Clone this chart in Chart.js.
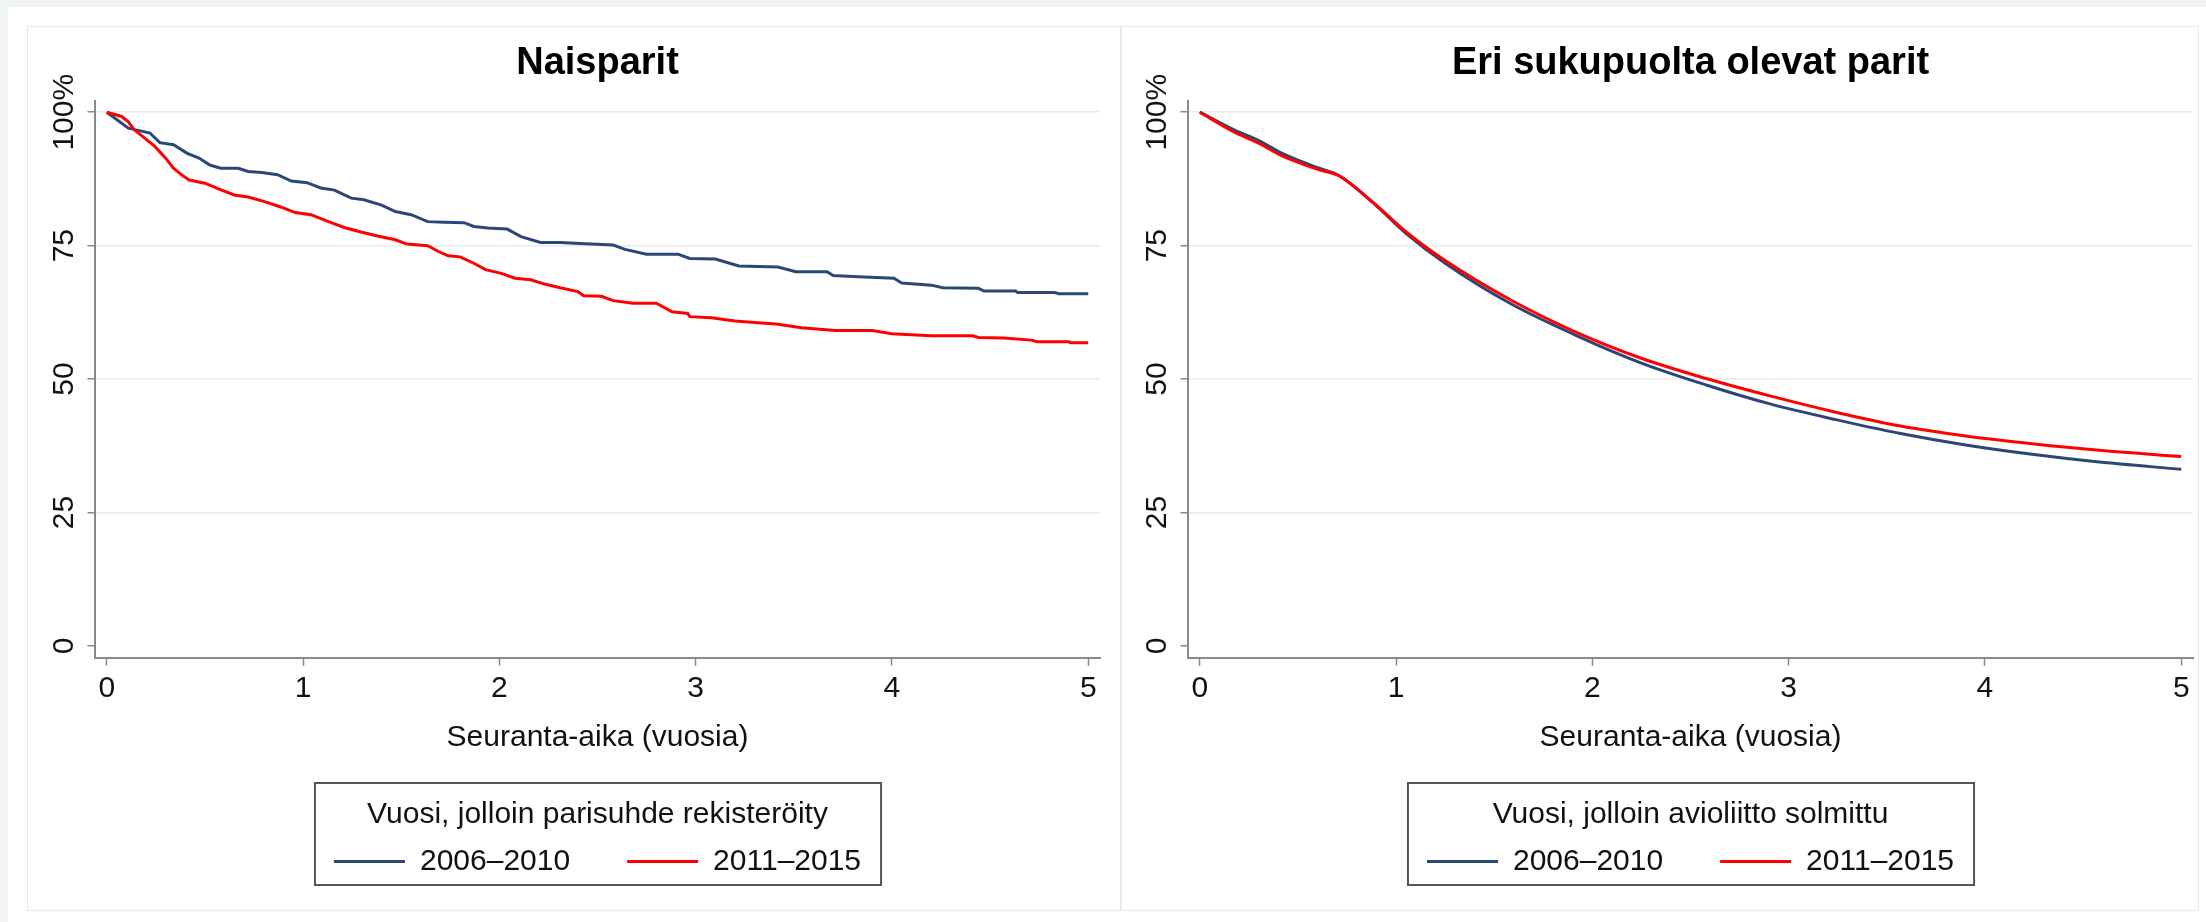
<!DOCTYPE html>
<html>
<head>
<meta charset="utf-8">
<script src="https://cdn.jsdelivr.net/npm/chart.js@4.4.1/dist/chart.umd.min.js"></script>
<style>
  html, body { margin: 0; padding: 0; }
  body { width: 2206px; height: 922px; background: #f1f4f4; position: relative; overflow: hidden; }
  #card { position: absolute; left: 8px; top: 7px; width: 2198px; height: 915px; background: #fff; }
  #frame { position: absolute; left: 27px; top: 26px; width: 2170px; height: 883px; border: 1.5px solid #e4ebeb; }
  #divider { position: absolute; left: 1120px; top: 26px; width: 1.5px; height: 885px; background: #e4ebeb; }
  canvas { position: absolute; }
  #left { left: 28px; top: 27px; }
  #right { left: 1121px; top: 27px; }
</style>
</head>
<body>
<div id="card"></div>
<div id="frame"></div>
<div id="divider"></div>
<canvas id="left" width="1091" height="883" style="width:1091px;height:883px"></canvas>
<canvas id="right" width="1077" height="883" style="width:1077px;height:883px"></canvas>
<script>
// Naisparit (stepped Kaplan-Meier curves), time in years, share still together in %
const naisTime2006 = [0, 0.11, 0.22, 0.27, 0.34, 0.41, 0.47, 0.525, 0.58, 0.67, 0.72, 0.79, 0.87, 0.94, 1.02, 1.09, 1.16, 1.245, 1.31, 1.40, 1.47, 1.55, 1.635, 1.72, 1.82, 1.87, 1.94, 2.04, 2.11, 2.21, 2.31, 2.41, 2.58, 2.64, 2.75, 2.91, 2.97, 3.10, 3.22, 3.42, 3.51, 3.67, 3.70, 3.80, 4.01, 4.05, 4.20, 4.26, 4.44, 4.47, 4.63, 4.64, 4.83, 4.85, 5.00];
const naisSurv2006 = [100, 97.0, 96.1, 94.3, 93.9, 92.3, 91.4, 90.1, 89.5, 89.5, 88.9, 88.7, 88.3, 87.1, 86.8, 85.8, 85.4, 83.9, 83.6, 82.6, 81.4, 80.8, 79.5, 79.4, 79.3, 78.6, 78.3, 78.1, 76.7, 75.6, 75.6, 75.4, 75.1, 74.3, 73.4, 73.4, 72.6, 72.5, 71.2, 71.0, 70.1, 70.1, 69.4, 69.2, 68.9, 68.0, 67.6, 67.1, 67.0, 66.5, 66.5, 66.2, 66.2, 66.0, 66.0];
const naisTime2011 = [0, 0.076, 0.11, 0.14, 0.195, 0.245, 0.30, 0.34, 0.38, 0.42, 0.50, 0.585, 0.65, 0.72, 0.80, 0.89, 0.96, 1.04, 1.13, 1.21, 1.30, 1.38, 1.47, 1.53, 1.635, 1.69, 1.74, 1.80, 1.87, 1.93, 2.01, 2.08, 2.16, 2.23, 2.31, 2.40, 2.43, 2.52, 2.58, 2.68, 2.80, 2.88, 2.96, 2.97, 3.08, 3.20, 3.30, 3.41, 3.54, 3.71, 3.90, 4.00, 4.20, 4.41, 4.44, 4.57, 4.71, 4.74, 4.90, 4.91, 5.00];
const naisSurv2011 = [100, 99.2, 98.2, 96.7, 95.1, 93.6, 91.4, 89.5, 88.3, 87.3, 86.7, 85.4, 84.5, 84.1, 83.3, 82.2, 81.2, 80.8, 79.5, 78.4, 77.5, 76.8, 76.1, 75.3, 75.0, 73.9, 73.1, 72.9, 71.7, 70.5, 69.8, 68.9, 68.6, 67.8, 67.1, 66.4, 65.6, 65.5, 64.7, 64.2, 64.2, 62.6, 62.3, 61.7, 61.5, 60.9, 60.6, 60.3, 59.6, 59.1, 59.1, 58.5, 58.1, 58.1, 57.8, 57.7, 57.3, 57.0, 57.0, 56.8, 56.8];

// Eri sukupuolta olevat parit (smooth curves)
const eriTime = [0, 0.18, 0.3, 0.42, 0.6, 0.71, 0.886, 1.05, 1.25, 1.58, 1.91, 2.25, 2.58, 2.91, 3.24, 3.57, 3.91, 4.24, 4.57, 5];
const eriSurv2006 = [100, 96.6, 94.7, 92.3, 89.6, 88.1, 82.9, 77.3, 71.7, 64.2, 58.3, 53.0, 48.9, 45.3, 42.4, 39.8, 37.6, 35.9, 34.5, 33.1];
const eriSurv2011 = [100, 96.2, 94.2, 91.8, 89.3, 88.1, 83.0, 77.6, 72.2, 64.9, 58.9, 53.9, 50.1, 46.8, 43.8, 41.2, 39.3, 37.9, 36.7, 35.5];

const seriesLabels = ['2006\u20132010', '2011\u20132015'];
const xTicks = [0, 1, 2, 3, 4, 5];
const yTicks = [0, 25, 50, 75, 100];
const yTickLabels = ['0', '25', '50', '75', '100%'];

const FONT = "'Liberation Sans', Arial, sans-serif";
const NAVY = '#2b4778';
const RED = '#ff0000';
const AXIS = '#8a8a8a';
const GRID = '#e6eded';

Chart.defaults.font.family = FONT;
Chart.defaults.color = '#111';

function points(xs, ys) {
  return xs.map((x, i) => ({ x: x, y: ys[i] }));
}

// box around the legend, like Stata draws it
const legendFrame = {
  id: 'legendFrame',
  afterDraw(chart) {
    const lg = chart.legend;
    const pad = lg.options.labels.padding;
    const rowW = lg.lineWidths[0] - pad;
    const start = (lg.left + lg.right - rowW) / 2;
    const ctx = chart.ctx;
    ctx.save();
    ctx.strokeStyle = '#555';
    ctx.lineWidth = 2;
    ctx.strokeRect(start - 19, lg.top - 17, rowW + 39, 102);
    ctx.restore();
  }
};

function makeChart(id, title, legendTitle, d1, d2, smooth, padRight) {
  const ds = (label, data, color, order) => ({
    label: label,
    data: data,
    borderColor: color,
    backgroundColor: color,
    borderWidth: 3,
    pointRadius: 0,
    fill: false,
    tension: 0,
    cubicInterpolationMode: smooth ? 'monotone' : 'default',
    order: order
  });

  new Chart(document.getElementById(id), {
    type: 'line',
    data: {
      datasets: [ds(seriesLabels[0], d1, NAVY, 1), ds(seriesLabels[1], d2, RED, 0)]
    },
    options: {
      responsive: false,
      animation: false,
      layout: { padding: { left: 0, right: padRight, top: 0, bottom: 23.5 } },
      plugins: {
        tooltip: { enabled: false },
        title: {
          display: true,
          text: title,
          fullSize: false,
          color: '#000',
          font: { size: 38, weight: 'bold', family: FONT },
          padding: { top: 14.2, bottom: 14.2 }
        },
        legend: {
          position: 'bottom',
          fullSize: false,
          title: {
            display: true,
            text: legendTitle,
            color: '#111',
            font: { size: 30, family: FONT },
            padding: { top: 0, bottom: -46.5 }
          },
          labels: {
            boxWidth: 71,
            boxHeight: 3,
            padding: 57,
            color: '#111',
            font: { size: 30, family: FONT },
            sort: (a, b) => a.datasetIndex - b.datasetIndex,
            generateLabels: c => Chart.defaults.plugins.legend.labels.generateLabels(c)
              .map(l => Object.assign(l, { lineWidth: 0 }))
          }
        }
      },
      scales: {
        x: {
          type: 'linear',
          min: -0.06,
          max: 5.06,
          afterBuildTicks: s => { s.ticks = xTicks.map(v => ({ value: v })); },
          afterFit: s => { s.height = 142.3; },
          border: { display: true, color: AXIS, width: 2 },
          grid: { drawOnChartArea: false, drawTicks: true, tickLength: 8, tickColor: AXIS, tickWidth: 1.5 },
          ticks: { autoSkip: false, maxRotation: 0, padding: 5, color: '#111', font: { size: 30 } },
          title: {
            display: true,
            text: 'Seuranta-aika (vuosia)',
            color: '#111',
            font: { size: 30, family: FONT },
            padding: { top: 0, bottom: 44 }
          }
        },
        y: {
          type: 'linear',
          min: -2.2,
          max: 102.1,
          afterBuildTicks: s => { s.ticks = yTicks.map(v => ({ value: v })); },
          afterFit: s => { s.width = 67; },
          border: { display: true, color: AXIS, width: 2 },
          grid: {
            color: c => (c.tick && c.tick.value === 0 ? 'rgba(0,0,0,0)' : GRID),
            lineWidth: 1.5,
            drawTicks: true,
            tickLength: 7.5,
            tickColor: AXIS,
            tickWidth: 1.5
          },
          ticks: {
            autoSkip: false,
            minRotation: 90,
            maxRotation: 90,
            crossAlign: 'center',
            padding: -16,
            color: '#111',
            font: { size: 30 },
            callback: v => yTickLabels[yTicks.indexOf(v)]
          }
        }
      }
    },
    plugins: [legendFrame]
  });
}

makeChart('left', 'Naisparit', 'Vuosi, jolloin parisuhde rekisteröity',
  points(naisTime2006, naisSurv2006), points(naisTime2011, naisSurv2011), false, 19);
makeChart('right', 'Eri sukupuolta olevat parit', 'Vuosi, jolloin avioliitto solmittu',
  points(eriTime, eriSurv2006), points(eriTime, eriSurv2011), true, 5);
</script>
</body>
</html>
